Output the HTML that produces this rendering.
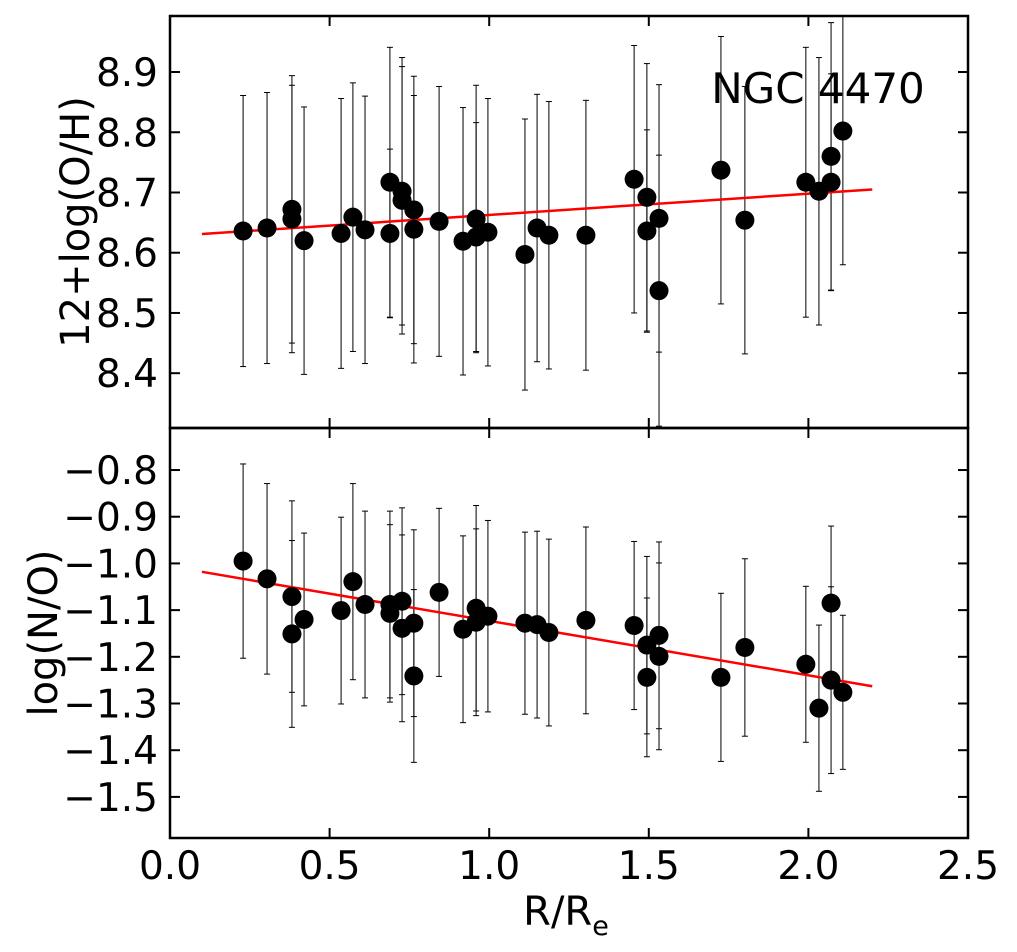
<!DOCTYPE html>
<html><head><meta charset="utf-8"><style>
html,body{margin:0;padding:0;background:#fff;}
svg{display:block;font-family:"DejaVu Sans","Liberation Sans",sans-serif;}
</style></head><body>
<svg id="chart" width="1017" height="952" viewBox="0 0 1017 952" xmlns="http://www.w3.org/2000/svg"></svg>
<script>
const radius = [0.229,0.304,0.382,0.382,0.42,0.536,0.573,0.611,0.689,0.689,0.727,0.727,0.764,0.764,0.843,0.918,0.959,0.959,0.996,1.112,1.150,1.187,1.303,1.454,1.494,1.494,1.532,1.532,1.726,1.801,1.992,2.033,2.071,2.071,2.108];
const oh = [8.636,8.641,8.672,8.656,8.620,8.632,8.659,8.638,8.717,8.632,8.702,8.687,8.671,8.639,8.652,8.619,8.656,8.626,8.634,8.597,8.641,8.629,8.629,8.722,8.692,8.636,8.657,8.537,8.737,8.654,8.717,8.702,8.760,8.717,8.802];
const ohErr = [0.225,0.225,0.222,0.222,0.222,0.224,0.223,0.222,0.224,0.14,0.222,0.222,0.222,0.222,0.224,0.222,0.222,0.19,0.222,0.225,0.222,0.222,0.224,0.222,0.222,0.168,0.222,0.225,0.222,0.222,0.224,0.222,0.222,0.18,0.222];
const no = [-0.995,-1.033,-1.071,-1.151,-1.120,-1.101,-1.039,-1.088,-1.088,-1.107,-1.081,-1.139,-1.128,-1.241,-1.062,-1.141,-1.096,-1.126,-1.113,-1.128,-1.131,-1.148,-1.122,-1.133,-1.175,-1.244,-1.154,-1.199,-1.244,-1.180,-1.216,-1.310,-1.085,-1.250,-1.276];
const noErr = [0.208,0.204,0.205,0.2,0.185,0.2,0.21,0.2,0.2,0.19,0.2,0.2,0.2,0.185,0.18,0.2,0.22,0.2,0.205,0.195,0.2,0.2,0.2,0.18,0.19,0.17,0.2,0.2,0.18,0.19,0.167,0.178,0.165,0.2,0.165];
const xTicks = [0.0,0.5,1.0,1.5,2.0,2.5];
const xTickLabels = ["0.0","0.5","1.0","1.5","2.0","2.5"];
const ohTicks = [8.4,8.5,8.6,8.7,8.8,8.9];
const noTicks = [-0.8,-0.9,-1.0,-1.1,-1.2,-1.3,-1.4,-1.5];
const ohFit = [[0.1,8.631],[2.2,8.705]];
const noFit = [[0.1,-1.018],[2.2,-1.263]];

const svg = document.getElementById('chart');
const NS = 'http://www.w3.org/2000/svg';
const L=170,R=968,T1=16,B1=428,T2=428,B2=838;
const x = v => L + (v-0)/(2.5)*(R-L);
const y1 = v => T1 + (8.993-v)/(8.993-8.309)*(B1-T1);
const y2 = v => T2 + (-0.71-v)/(-0.71+1.588)*(B2-T2);
function mk(tag, attrs, parent){const e=document.createElementNS(NS,tag);for(const k in attrs)e.setAttribute(k,attrs[k]);(parent||svg).appendChild(e);return e;}

function panel(name, top, bot, yf, ticks, fmt, vals, errs, fit, showX){
  const g = mk('g',{});
  
  
  const clipId = name+'-clip';
  const cp = mk('clipPath',{id:clipId},g); mk('rect',{x:L,y:top,width:R-L,height:bot-top},cp);
  const data = mk('g',{'clip-path':'url(#'+clipId+')'},g);
  vals.forEach((v,i)=>{
    const eb = mk('g',{stroke:'#000','stroke-width':1},data);
    
    
    const cx=x(radius[i]), ya=yf(v+errs[i]), yb=yf(v-errs[i]);
    mk('line',{x1:cx,x2:cx,y1:ya,y2:yb},eb);
    mk('line',{x1:cx-3,x2:cx+3,y1:ya,y2:ya},eb);
    mk('line',{x1:cx-3,x2:cx+3,y1:yb,y2:yb},eb);
  });
  const fl = mk('line',{x1:x(fit[0][0]),y1:yf(fit[0][1]),x2:x(fit[1][0]),y2:yf(fit[1][1]),stroke:'#ff0000','stroke-width':2.5},data);
  
  
  vals.forEach((v,i)=>{
    const c = mk('circle',{cx:x(radius[i]),cy:yf(v),r:9.5,fill:'#000'},data);
    
    
  });
  mk('rect',{x:L,y:top,width:R-L,height:bot-top,fill:'none',stroke:'#000','stroke-width':2.5},g);
  ticks.forEach(t=>{
    const yy=yf(t);
    mk('line',{x1:L,x2:L+10,y1:yy,y2:yy,stroke:'#000','stroke-width':2},g);
    mk('line',{x1:R-10,x2:R,y1:yy,y2:yy,stroke:'#000','stroke-width':2},g);
    const tx = mk('text',{x:L-12,y:yy+14,'text-anchor':'end','font-size':39},g);
    tx.textContent = fmt(t);
    
    
  });
  xTicks.forEach((t,i)=>{
    const xx=x(t);
    mk('line',{x1:xx,x2:xx,y1:bot,y2:bot-10,stroke:'#000','stroke-width':2},g);
    mk('line',{x1:xx,x2:xx,y1:top,y2:top+10,stroke:'#000','stroke-width':2},g);
    if(showX){
      const tx = mk('text',{x:xx,y:bot+41,'text-anchor':'middle','font-size':39},g);
      tx.textContent = xTickLabels[i];
      
      
    }
  });
}
panel('oh',T1,B1,y1,ohTicks,t=>t.toFixed(1),oh,ohErr,ohFit,false);
panel('no',T2,B2,y2,noTicks,t=>'\u2212'+Math.abs(t).toFixed(1),no,noErr,noFit,true);

let t = mk('text',{x:89,y:222,'text-anchor':'middle','font-size':40,transform:'rotate(-90 89 222)'});
t.textContent='12+log(O/H)';


t = mk('text',{x:57,y:633,'text-anchor':'middle','font-size':40,transform:'rotate(-90 57 633)'});
t.textContent='log(N/O)';


t = mk('text',{x:566,y:925,'text-anchor':'middle','font-size':40});
t.innerHTML='R/R<tspan font-size="27" dy="10">e</tspan>';


t = mk('text',{x:818,y:103,'text-anchor':'middle','font-size':42});
t.textContent='NGC 4470';


</script>
</body></html>
